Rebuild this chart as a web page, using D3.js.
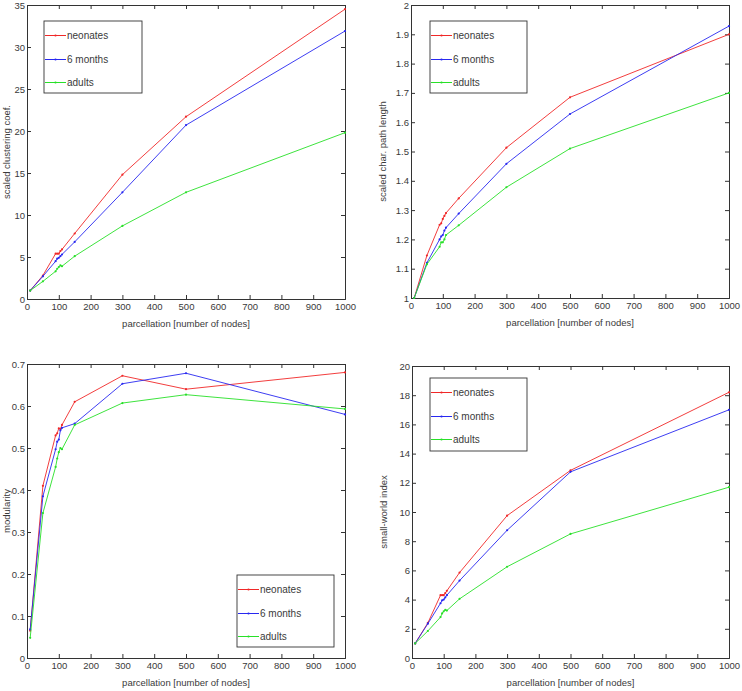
<!DOCTYPE html>
<html><head><meta charset="utf-8">
<script src="https://cdn.jsdelivr.net/npm/d3@7"></script>
<style>body{margin:0;background:#fff}svg{display:block}text{font-family:"Liberation Sans",Arial,sans-serif}</style>
</head><body>
<svg id="c" width="742" height="691"></svg>
<script>
const xNodes = [10, 50, 90, 95, 100, 105, 110, 150, 300, 500, 1000];
const seriesNames = ["neonates", "6 months", "adults"];
const seriesColors = ["#f02828", "#2828f0", "#28e028"];

const clustNeo = [1, 2.8, 5.4, 5.4, 5.4, 5.7, 5.9, 7.8, 14.8, 21.7, 34.5];
const clust6m  = [1, 2.7, 4.5, 4.8, 4.9, 5.1, 5.3, 6.8, 12.7, 20.7, 31.9];
const clustAd  = [1, 2.1, 3.3, 3.6, 3.8, 4.0, 3.9, 5.1, 8.7, 12.7, 19.8];

const pathNeo = [1.0, 1.145, 1.25, 1.255, 1.27, 1.28, 1.29, 1.34, 1.513, 1.685, 1.90];
const path6m  = [1.0, 1.12, 1.20, 1.21, 1.215, 1.23, 1.24, 1.288, 1.458, 1.628, 1.928];
const pathAd  = [1.0, 1.115, 1.175, 1.19, 1.19, 1.20, 1.215, 1.248, 1.378, 1.51, 1.70];

const modNeo = [0.065, 0.41, 0.53, 0.535, 0.547, 0.545, 0.555, 0.61, 0.672, 0.64, 0.68];
const mod6m  = [0.068, 0.385, 0.497, 0.515, 0.52, 0.542, 0.548, 0.558, 0.653, 0.678, 0.58];
const modAd  = [0.048, 0.345, 0.455, 0.475, 0.49, 0.50, 0.497, 0.555, 0.607, 0.627, 0.593];

const swNeo = [1, 2.4, 4.3, 4.3, 4.3, 4.45, 4.6, 5.85, 9.75, 12.85, 18.2];
const sw6m  = [1, 2.35, 3.75, 3.95, 4.0, 4.15, 4.3, 5.3, 8.75, 12.75, 17.0];
const swAd  = [1, 1.85, 2.8, 3.05, 3.2, 3.3, 3.25, 4.05, 6.25, 8.5, 11.7];

const xTicks = [0,100,200,300,400,500,600,700,800,900,1000];
const clustTicks = [0,5,10,15,20,25,30,35];
const pathTicks = [1,1.1,1.2,1.3,1.4,1.5,1.6,1.7,1.8,1.9,2];
const modTicks = [0,0.1,0.2,0.3,0.4,0.5,0.6,0.7];
const swTicks = [0,2,4,6,8,10,12,14,16,18,20];

const svg = d3.select("#c");
const txtCol = "#3a3a3a";

function panel(o){
  const g = svg.append("g");
  const x = d3.scaleLinear().domain([0,1000]).range([o.l, o.r]);
  const y = d3.scaleLinear().domain(o.yd).range([o.b, o.t]);
  const tl = 4;
  const axCol = "#333";
  g.append("g").attr("transform",`translate(0,${o.b})`)
    .call(d3.axisBottom(x).tickValues(xTicks).tickSize(-tl).tickPadding(4).tickFormat(d3.format("d")));
  g.append("g").attr("transform",`translate(0,${o.t})`)
    .call(d3.axisTop(x).tickValues(xTicks).tickSize(-tl).tickFormat(""));
  g.append("g").attr("transform",`translate(${o.l},0)`)
    .call(d3.axisLeft(y).tickValues(o.ticks).tickSize(-tl).tickPadding(2).tickFormat(o.fmt));
  g.append("g").attr("transform",`translate(${o.r},0)`)
    .call(d3.axisRight(y).tickValues(o.ticks).tickSize(-tl).tickFormat(""));
  g.selectAll(".domain").attr("stroke", axCol);
  g.selectAll(".tick line").attr("stroke", axCol);
  g.selectAll(".tick text").attr("fill",txtCol).style("font-size","9.5px").style("font-family",'"Liberation Sans",Arial,sans-serif');
  g.append("text").attr("x",(o.l+o.r)/2).attr("y",o.b+28).attr("text-anchor","middle")
    .attr("fill",txtCol).style("font-size","9.5px").text("parcellation [number of nodes]");
  g.append("text").attr("transform",`translate(${o.yl},${(o.t+o.b)/2}) rotate(-90)`).attr("text-anchor","middle")
    .attr("fill",txtCol).style("font-size","9.5px").text(o.ylabel);
  const line = d3.line().x((d,i)=>x(xNodes[i])).y(d=>y(d));
  o.data.forEach((s,k)=>{
    g.append("path").datum(s).attr("d",line).attr("fill","none").attr("stroke",seriesColors[k]).attr("stroke-width",0.9);
    g.selectAll(null).data(s).enter().append("circle").attr("cx",(d,i)=>x(xNodes[i])).attr("cy",d=>y(d))
      .attr("r",1.1).attr("fill",seriesColors[k]);
  });
  const L = o.leg;
  g.append("rect").attr("x",L.x).attr("y",L.y).attr("width",L.w).attr("height",L.h)
    .attr("fill","#fff").attr("stroke","#333").attr("stroke-width",0.9);
  seriesNames.forEach((nm,k)=>{
    const yy = Math.round(L.y + 14 + k*23.5) + 0.5;
    g.append("line").attr("x1",L.x+1).attr("x2",L.x+22).attr("y1",yy).attr("y2",yy).attr("stroke",seriesColors[k]).attr("stroke-width",1);
    g.append("circle").attr("cx",L.x+11.5).attr("cy",yy).attr("r",1.1).attr("fill",seriesColors[k]);
    g.append("text").attr("x",L.x+23).attr("y",yy+3.5).attr("fill",txtCol).style("font-size","10px").text(nm);
  });
}

panel({l:27,r:345,t:5,b:299,yd:[0,35],ticks:clustTicks,fmt:d3.format("d"),yl:10,
  ylabel:"scaled clustering coef.",data:[clustNeo,clust6m,clustAd],leg:{x:44,y:21,w:98,h:72}});
panel({l:411,r:729,t:5,b:298,yd:[1,2],ticks:pathTicks,fmt:d=>d===1||d===2?d3.format("d")(d):d3.format(".1f")(d),yl:386,
  ylabel:"scaled char. path length",data:[pathNeo,path6m,pathAd],leg:{x:430,y:21,w:97,h:72}});
panel({l:27,r:345,t:364,b:658,yd:[0,0.7],ticks:modTicks,fmt:d=>d===0?"0":d3.format(".1f")(d),yl:10,
  ylabel:"modularity",data:[modNeo,mod6m,modAd],leg:{x:237,y:575,w:97,h:72}});
panel({l:412,r:729,t:366,b:658,yd:[0,20],ticks:swTicks,fmt:d3.format("d"),yl:387,
  ylabel:"small-world index",data:[swNeo,sw6m,swAd],leg:{x:430,y:378,w:97,h:73}});
</script>
</body></html>
